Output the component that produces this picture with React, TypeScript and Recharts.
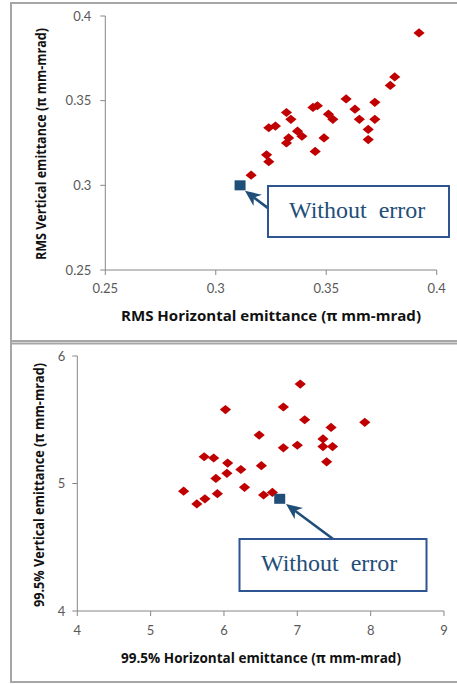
import { ScatterChart, Scatter, XAxis, YAxis, ReferenceLine } from 'recharts';

// RMS emittance, 27 error seeds (π mm-mrad)
const rmsH = [
  0.392, 0.381, 0.379, 0.359, 0.372, 0.363, 0.365, 0.372, 0.369, 0.369, 0.351, 0.353, 0.344, 0.346,
  0.349, 0.345, 0.332, 0.334, 0.337, 0.339, 0.333, 0.332, 0.324, 0.327, 0.323, 0.324, 0.316,
];
const rmsV = [
  0.39, 0.364, 0.359, 0.351, 0.349, 0.345, 0.339, 0.339, 0.333, 0.327, 0.342, 0.339, 0.346, 0.347,
  0.328, 0.32, 0.343, 0.339, 0.332, 0.329, 0.328, 0.325, 0.334, 0.335, 0.318, 0.314, 0.306,
];
const rmsNoErr = { x: 0.311, y: 0.3 };
const rmsTicks = [0.25, 0.3, 0.35, 0.4];
// arrow from the label box to the "without error" point, in data units
const rmsArrow = [{ x: 0.3238, y: 0.2864 }, { x: 0.3132, y: 0.2968 }];

// 99.5% emittance
const p995H = [
  7.04, 6.02, 6.81, 7.1, 7.92, 7.46, 6.48, 7.35, 7.0, 6.81, 7.35, 7.48, 7.4, 5.73,
  5.86, 6.05, 6.51, 6.23, 6.04, 5.89, 6.28, 5.45, 5.91, 6.54, 6.66, 5.74, 5.63,
];
const p995V = [
  5.78, 5.58, 5.6, 5.5, 5.48, 5.44, 5.38, 5.35, 5.3, 5.28, 5.29, 5.29, 5.17, 5.21,
  5.2, 5.16, 5.14, 5.11, 5.08, 5.04, 4.97, 4.94, 4.92, 4.91, 4.93, 4.88, 4.84,
];
const p995NoErr = { x: 6.76, y: 4.88 };
const p995XTicks = [4, 5, 6, 7, 8, 9];
const p995YTicks = [4, 5, 6];
const p995Arrow = [{ x: 7.483, y: 4.567 }, { x: 6.846, y: 4.839 }];

const RED = '#C00000';
const BLUE = '#1F4E79';
const AXIS = '#868686';
const TICK = '#595959';
const FRAME = '#A6A6A6';

const zip = (xs: number[], ys: number[]) => xs.map((x, i) => ({ x, y: ys[i] }));

function Diamond(p: any) {
  const { cx, cy } = p;
  return (
    <polygon
      points={`${cx},${cy - 4.6} ${cx + 5.6},${cy} ${cx},${cy + 4.6} ${cx - 5.6},${cy}`}
      fill={RED}
    />
  );
}

function Square(p: any) {
  return <rect x={p.cx - 5.5} y={p.cy - 5} width={11} height={10} fill={BLUE} />;
}

function Arrow(p: any) {
  const { x1, y1, x2, y2 } = p;
  const a = Math.atan2(y2 - y1, x2 - x1);
  const c = Math.cos(a);
  const s = Math.sin(a);
  const len = 16;
  const half = 7;
  const bx = x2 - len * c;
  const by = y2 - len * s;
  const nx = x2 - len * 0.7 * c;
  const ny = y2 - len * 0.7 * s;
  return (
    <g>
      <line x1={x1} y1={y1} x2={nx} y2={ny} stroke={BLUE} strokeWidth={2.6} />
      <polygon
        points={`${x2},${y2} ${bx - s * half},${by + c * half} ${nx},${ny} ${bx + s * half},${by - c * half}`}
        fill={BLUE}
      />
    </g>
  );
}

const tickStyle = { fill: TICK, fontSize: 13, fontFamily: 'Lato, sans-serif' };

function RmsChart() {
  return (
    <ScatterChart width={457} height={342} margin={{ top: 16, right: 20.3, bottom: 42, left: 45.3 }}>
      <XAxis
        type="number"
        dataKey="x"
        domain={[0.25, 0.4]}
        ticks={rmsTicks}
        height={30}
        stroke={AXIS}
        tickSize={5}
        tickMargin={9}
        tick={tickStyle}
        allowDataOverflow
      />
      <YAxis
        type="number"
        dataKey="y"
        domain={[0.25, 0.4]}
        ticks={rmsTicks}
        width={60}
        stroke={AXIS}
        tickSize={5}
        tickMargin={9}
        tick={tickStyle}
        allowDataOverflow
      />
      <Scatter data={zip(rmsH, rmsV)} shape={Diamond} isAnimationActive={false} />
      <Scatter data={[rmsNoErr]} shape={Square} isAnimationActive={false} />
      <ReferenceLine segment={rmsArrow} ifOverflow="visible" shape={Arrow} />
    </ScatterChart>
  );
}

function P995Chart() {
  return (
    <ScatterChart width={457} height={342} margin={{ top: 14, right: 13, bottom: 43, left: 37.3 }}>
      <XAxis
        type="number"
        dataKey="x"
        domain={[4, 9]}
        ticks={p995XTicks}
        height={30}
        stroke={AXIS}
        tickSize={5}
        tickMargin={10}
        tick={tickStyle}
        allowDataOverflow
      />
      <YAxis
        type="number"
        dataKey="y"
        domain={[4, 6]}
        ticks={p995YTicks}
        width={40}
        stroke={AXIS}
        tickSize={5}
        tickMargin={7}
        tick={tickStyle}
        allowDataOverflow
      />
      <Scatter data={zip(p995H, p995V)} shape={Diamond} isAnimationActive={false} />
      <Scatter data={[p995NoErr]} shape={Square} isAnimationActive={false} />
      <ReferenceLine segment={p995Arrow} ifOverflow="visible" shape={Arrow} />
    </ScatterChart>
  );
}

const titleFont = { fontFamily: '"Open Sans", sans-serif', fontWeight: 700, fontSize: 13.5, fill: '#111' };
const boxFont = { fontFamily: '"Liberation Serif", serif', fontSize: 24, fill: BLUE };

export default function App() {
  return (
    <div style={{ position: 'fixed', left: 0, top: 0, width: 457, height: 684, background: '#fff' }}>
      <div style={{ position: 'absolute', left: 0, top: 0 }}>
        <RmsChart />
      </div>
      <div style={{ position: 'absolute', left: 0, top: 342 }}>
        <P995Chart />
      </div>
      <svg
        width={457}
        height={684}
        style={{ position: 'absolute', left: 0, top: 0, pointerEvents: 'none' }}
      >
        {/* panel frames */}
        <g stroke={FRAME} strokeWidth={2} fill="none">
          <line x1={11} y1={3} x2={457} y2={3} />
          <line x1={11} y1={341} x2={457} y2={341} />
          <line x1={11} y1={343.5} x2={457} y2={343.5} />
          <line x1={11} y1={682} x2={457} y2={682} />
          <line x1={11} y1={2} x2={11} y2={683} />
        </g>

        {/* axis titles */}
        <text x={121} y={321} textLength={300} lengthAdjust="spacingAndGlyphs" style={titleFont}>
          RMS Horizontal emittance (π mm-mrad)
        </text>
        <text
          transform="translate(46,260) rotate(-90)"
          textLength={232}
          lengthAdjust="spacingAndGlyphs"
          style={titleFont}
        >
          RMS Vertical emittance (π mm-mrad)
        </text>
        <text x={121} y={663} textLength={280} lengthAdjust="spacingAndGlyphs" style={titleFont}>
          99.5% Horizontal emittance (π mm-mrad)
        </text>
        <text
          transform="translate(44,607) rotate(-90)"
          textLength={244}
          lengthAdjust="spacingAndGlyphs"
          style={titleFont}
        >
          99.5% Vertical emittance (π mm-mrad)
        </text>

        {/* "Without error" labels */}
        <rect x={268} y={186} width={181} height={51} fill="#fff" stroke="#2E5492" strokeWidth={2} />
        <text x={289} y={218} style={{ ...boxFont, whiteSpace: 'pre' }}>
          Without  error
        </text>
        <rect x={239.5} y={539} width={187} height={52} fill="#fff" stroke="#2E5492" strokeWidth={2} />
        <text x={261} y={571} style={{ ...boxFont, whiteSpace: 'pre' }}>
          Without  error
        </text>
      </svg>
    </div>
  );
}
